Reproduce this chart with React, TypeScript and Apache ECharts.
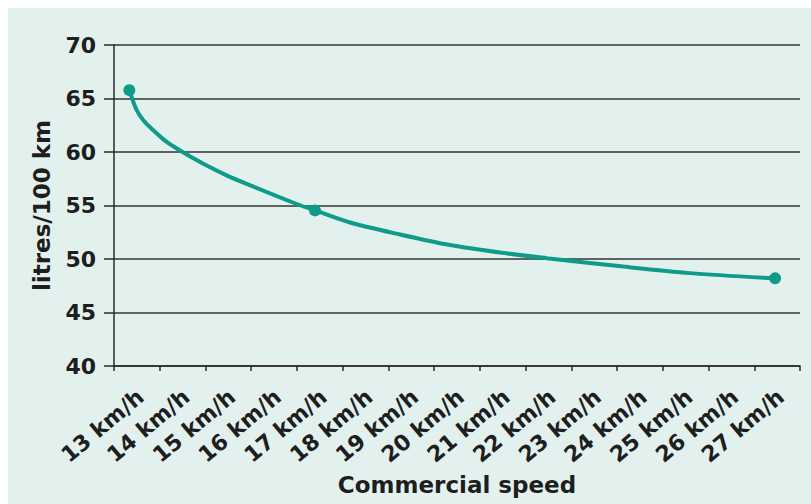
import React, { useEffect, useRef } from "react";
import * as echarts from "echarts";

const categories = [
  "13 km/h", "14 km/h", "15 km/h", "16 km/h", "17 km/h", "18 km/h", "19 km/h",
  "20 km/h", "21 km/h", "22 km/h", "23 km/h", "24 km/h", "25 km/h", "26 km/h", "27 km/h",
];
const curveSpeed = [12.835, 12.909, 12.996, 13.141, 13.359, 13.652, 13.98, 14.453, 14.964, 15.402, 16.495, 16.895, 17.66, 18.754, 19.847, 20.94, 21.962, 23.637, 25.096, 26.955];
const curveLitres = [65.78, 64.85, 63.91, 62.97, 62.03, 60.94, 60.05, 58.91, 57.82, 57.02, 55.14, 54.54, 53.41, 52.29, 51.3, 50.6, 50.08, 49.29, 48.68, 48.19];
const markerSpeed = [12.835, 16.895, 26.955];
const markerLitres = [65.78, 54.54, 48.19];
const yTicks = { min: 40, max: 70, interval: 5 };

const FONT = "'DejaVu Sans', Verdana, sans-serif";
const TEXT = "#1e1e1e";
const TEAL = "#0e9b8a";

export default function App() {
  const ref = useRef<HTMLDivElement>(null);
  useEffect(() => {
    if (!ref.current) return;
    const chart = echarts.init(ref.current, null, { renderer: "svg" });
    chart.setOption({
      animation: false,
      backgroundColor: "#ffffff",
      graphic: [
        {
          type: "rect",
          z: -100,
          shape: { x: 8, y: 8, width: 803, height: 496 },
          style: { fill: "#e3f1ee" },
          silent: true,
        },
      ],
      grid: { left: 114, right: 11, top: 45, bottom: 138 },
      xAxis: [
        {
          type: "category",
          data: categories,
          boundaryGap: true,
          axisLine: { lineStyle: { color: "#2a2a2a", width: 1.5 } },
          axisTick: { show: true, length: 5, lineStyle: { color: "#2a2a2a", width: 1.5 } },
          axisLabel: {
            interval: 0,
            rotate: 40,
            margin: 31,
            padding: [0, -5, 0, 0],
            fontFamily: FONT,
            fontWeight: "bold",
            fontSize: 22,
            color: TEXT,
          },
          name: "Commercial speed",
          nameLocation: "middle",
          nameGap: 103,
          nameTextStyle: { fontFamily: FONT, fontWeight: "bold", fontSize: 23, color: TEXT },
          splitLine: { show: false },
        },
        {
          type: "value",
          show: false,
          min: 12.5,
          max: 27.5,
        },
      ],
      yAxis: {
        type: "value",
        min: yTicks.min,
        max: yTicks.max,
        interval: yTicks.interval,
        axisLine: { show: true, lineStyle: { color: "#2a2a2a", width: 1.5 } },
        axisTick: { show: true, length: 10, lineStyle: { color: "#2a2a2a", width: 1.5 } },
        axisLabel: {
          margin: 18,
          fontFamily: FONT,
          fontWeight: "bold",
          fontSize: 22,
          color: TEXT,
        },
        splitLine: { show: true, lineStyle: { color: "#333333", width: 1.5 } },
        name: "litres/100 km",
        nameLocation: "middle",
        nameRotate: 90,
        nameGap: 61,
        nameTextStyle: { fontFamily: FONT, fontWeight: "bold", fontSize: 23, color: TEXT },
      },
      series: [
        {
          type: "line",
          xAxisIndex: 1,
          data: curveSpeed.map((s, i) => [s, curveLitres[i]]),
          smooth: 0.3,
          symbol: "none",
          lineStyle: { color: TEAL, width: 4 },
          z: 3,
        },
        {
          type: "scatter",
          xAxisIndex: 1,
          data: markerSpeed.map((s, i) => [s, markerLitres[i]]),
          symbol: "circle",
          symbolSize: 12,
          itemStyle: { color: TEAL, opacity: 1 },
          z: 4,
        },
      ],
    });
    return () => chart.dispose();
  }, []);
  return (
    <div
      ref={ref}
      style={{ position: "absolute", left: 0, top: 0, width: 811, height: 504 }}
    />
  );
}
